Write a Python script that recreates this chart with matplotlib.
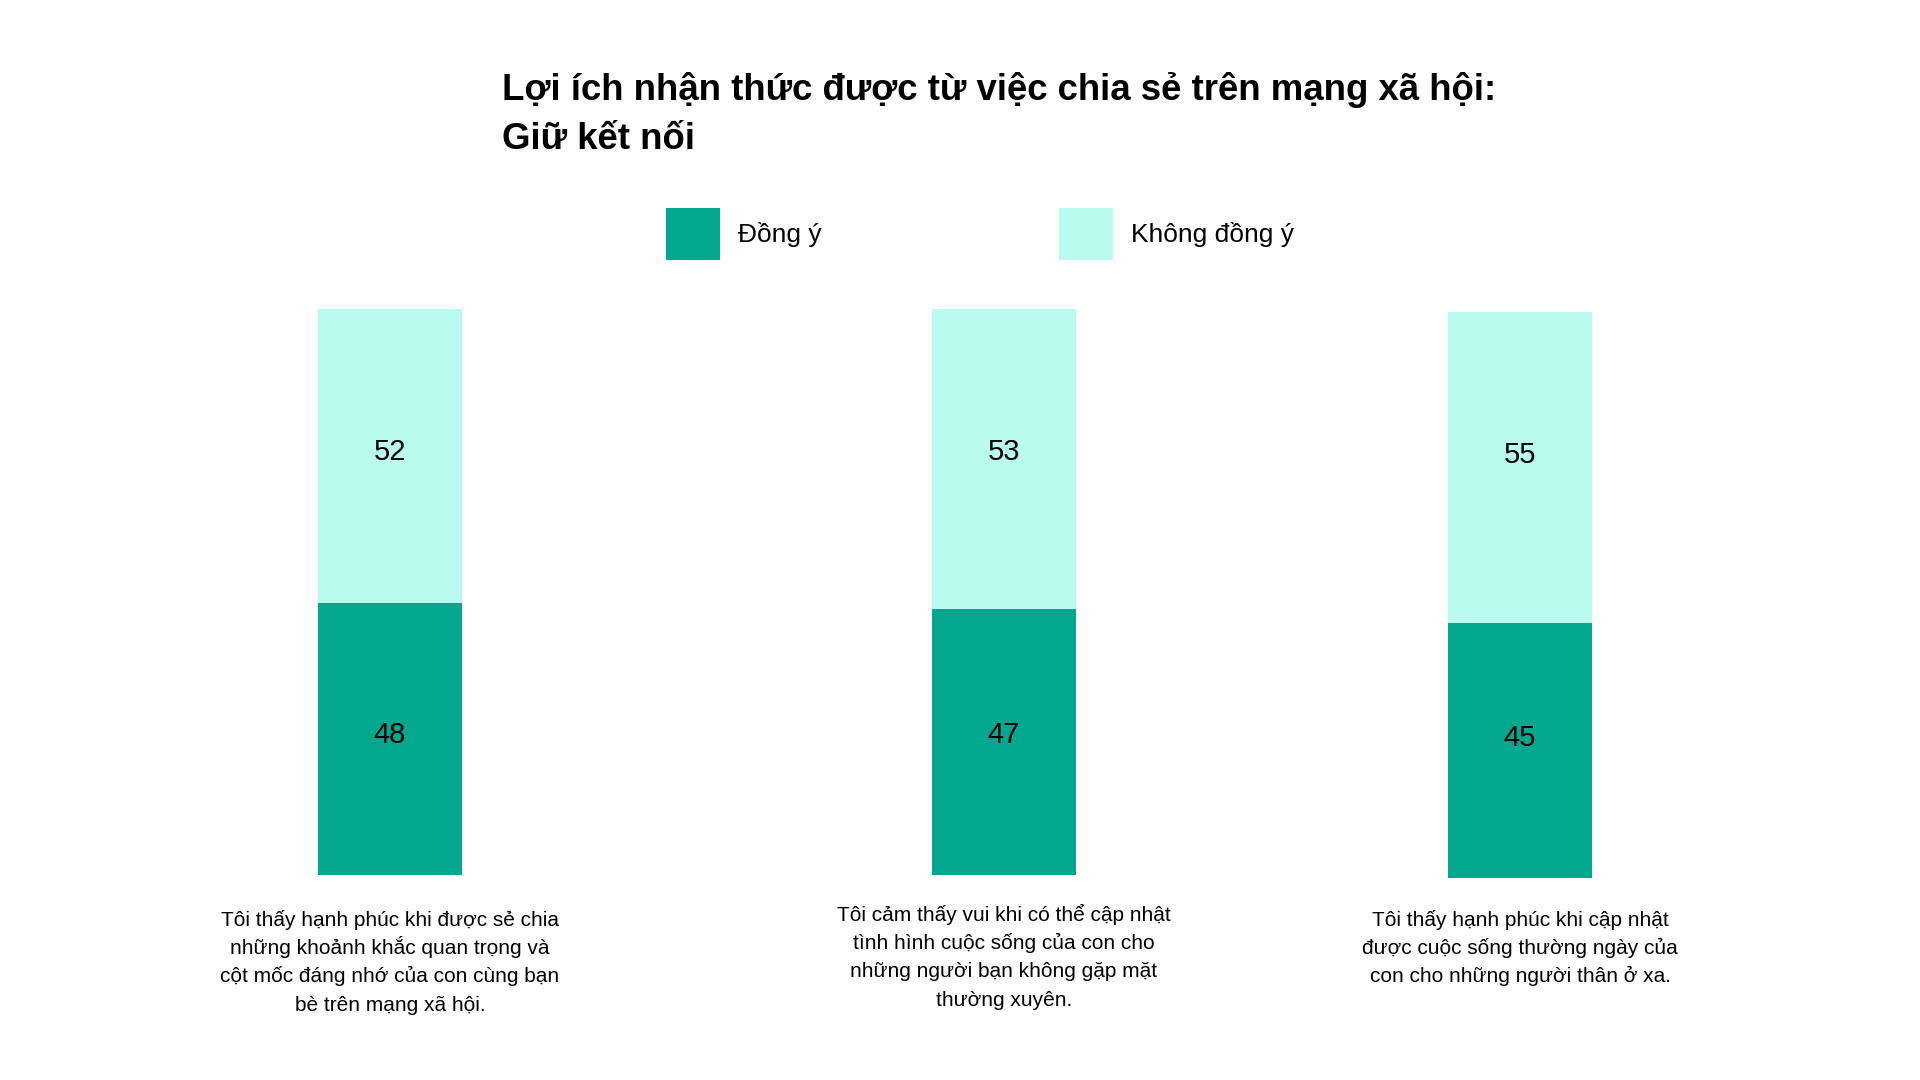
import matplotlib
matplotlib.use("Agg")
import matplotlib.pyplot as plt
from matplotlib.patches import Patch

plt.rcParams['font.family'] = ['Liberation Sans', 'DejaVu Sans']

# ---- data ----
title = "Lợi ích nhận thức được từ việc chia sẻ trên mạng xã hội:\nGiữ kết nối"
series_names = ["Đồng ý", "Không đồng ý"]
categories = [
    "Tôi thấy hạnh phúc khi được sẻ chia\nnhững khoảnh khắc quan trọng và\ncột mốc đáng nhớ của con cùng bạn\nbè trên mạng xã hội.",
    "Tôi cảm thấy vui khi có thể cập nhật\ntình hình cuộc sống của con cho\nnhững người bạn không gặp mặt\nthường xuyên.",
    "Tôi thấy hạnh phúc khi cập nhật\nđược cuộc sống thường ngày của\ncon cho những người thân ở xa.",
]
agree = [48, 47, 45]
disagree = [52, 53, 55]

# ---- style / layout ----
dark = "#04A88E"
light = "#B9FCEF"
W, H = 1920, 1080
fig = plt.figure(figsize=(19.2, 10.8), dpi=100)
fig.patch.set_facecolor("white")

centers_px = [390, 1004, 1520]
tops_px = [309, 309, 312]
bottoms_px = [875, 875, 878]
half_w = 150
cap_first_baselines_px = [926, 921, 926]
cap_line_step_px = 28.2

for i, cat in enumerate(categories):
    cx = centers_px[i]
    ax = fig.add_axes([(cx - half_w) / W, 1 - bottoms_px[i] / H,
                       2 * half_w / W, (bottoms_px[i] - tops_px[i]) / H])
    ax.bar([0], [agree[i]], width=0.96, color=dark)
    ax.bar([0], [disagree[i]], bottom=[agree[i]], width=0.96, color=light)
    ax.set_xlim(-1, 1)
    ax.set_ylim(0, agree[i] + disagree[i])
    ax.axis("off")
    ax.text(0, 0.247, f"{agree[i]}", transform=ax.get_xaxis_transform(),
            ha="center", va="center", fontsize=21, color="black")
    ax.text(0, 0.747, f"{disagree[i]}", transform=ax.get_xaxis_transform(),
            ha="center", va="center", fontsize=21, color="black")
    for j, line in enumerate(cat.split("\n")):
        y_px = cap_first_baselines_px[i] + j * cap_line_step_px
        fig.text(cx / W, 1 - y_px / H, line, ha="center", va="baseline",
                 fontsize=15, color="black")

fig.text(502 / W, 1 - 149 / H, title, ha="left", va="baseline",
         fontsize=26.4, fontweight="bold", linespacing=1.52, color="black")

handles = [Patch(facecolor=dark, edgecolor="none"), Patch(facecolor=light, edgecolor="none")]
fig.legend(handles, series_names, loc="center left",
           bbox_to_anchor=(666 / W, 1 - 234 / H), ncol=2, frameon=False,
           fontsize=19, handlelength=2.05, handleheight=2.6, handletextpad=0.68,
           columnspacing=9.0, borderpad=0, borderaxespad=0)

fig.savefig("out.png", dpi=100, facecolor="white")
